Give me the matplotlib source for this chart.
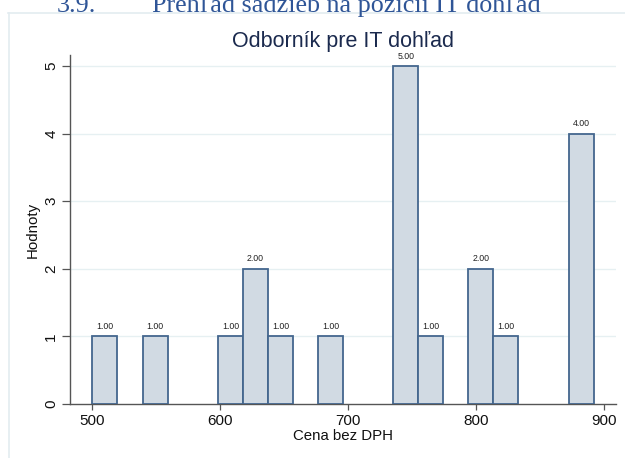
import matplotlib
matplotlib.use("Agg")
import matplotlib.pyplot as plt
from matplotlib.lines import Line2D

# Data
bin_centers = [510.1, 549.4, 608.0, 627.6, 647.1, 686.2, 744.9, 764.4, 803.5, 823.1, 881.7]
counts = [1, 1, 1, 2, 1, 1, 5, 1, 2, 1, 4]
bin_width = 19.55
x_ticks = [500, 600, 700, 800, 900]
y_ticks = [0, 1, 2, 3, 4, 5]
title = "Odborník pre IT dohľad"
heading_num = "3.9."
heading = "Prehľad sadzieb na pozícii IT dohľad"
xlabel = "Cena bez DPH"
ylabel = "Hodnoty"

plt.rcParams['font.family'] = ['Liberation Sans', 'DejaVu Sans']

fig = plt.figure(figsize=(6.25, 4.58), dpi=100)
fig.patch.set_facecolor('white')

# Frame lines of the embedded chart image
frame_col = '#e3ecf0'
fig.add_artist(Line2D([7.5/625, 1.0], [1-12.5/458, 1-12.5/458], transform=fig.transFigure, color=frame_col, lw=1.2))
fig.add_artist(Line2D([8.5/625, 8.5/625], [0, 1-12.5/458], transform=fig.transFigure, color=frame_col, lw=1.2))

# Cut-off document heading
fig.text(57/625, 1-12/458, heading_num, family='Liberation Serif', fontsize=18.8, color='#2f5597', va='baseline', ha='left')
fig.text(152/625, 1-12/458, heading, family='Liberation Serif', fontsize=18.8, color='#2f5597', va='baseline', ha='left')

ax = fig.add_axes([70/625, 1-404/458, (616-70)/625, (404-55)/458])
ax.set_xlim(482.8, 909)
ax.set_ylim(0, 5.163)

ax.bar(bin_centers, counts, width=bin_width, color='#d1dae3', edgecolor='#44668e', linewidth=1.3, zorder=3)
for xc, c in zip(bin_centers, counts):
    ax.text(xc, c + 0.08, f"{c:.2f}", ha='center', va='bottom', fontsize=6.3, color='#222222', zorder=4)

ax.set_xticks(x_ticks)
ax.set_yticks(y_ticks)
ax.set_yticklabels([str(v) for v in y_ticks], rotation=90, va='center')
ax.tick_params(axis='x', length=4, width=0.9, color='#555555', labelsize=11, pad=3, labelcolor='#111111')
ax.tick_params(axis='y', length=5.5, width=0.9, color='#555555', labelsize=11, pad=3, labelcolor='#111111')
for v in y_ticks[1:]:
    ax.axhline(v, color='#e6f0f2', lw=1.0, zorder=1)

for s in ['top', 'right']:
    ax.spines[s].set_visible(False)
for s in ['left', 'bottom']:
    ax.spines[s].set_color('#555555')
    ax.spines[s].set_linewidth(1.0)

ax.set_xlabel(xlabel, fontsize=10.8, color='#111111', labelpad=1)
ax.set_ylabel(ylabel, fontsize=10.8, color='#111111', labelpad=3)
fig.text(343/625, 1-47/458, title, ha='center', va='baseline', fontsize=15.5, color='#1b2a4e')

fig.savefig('out.png', dpi=100, facecolor='white')
